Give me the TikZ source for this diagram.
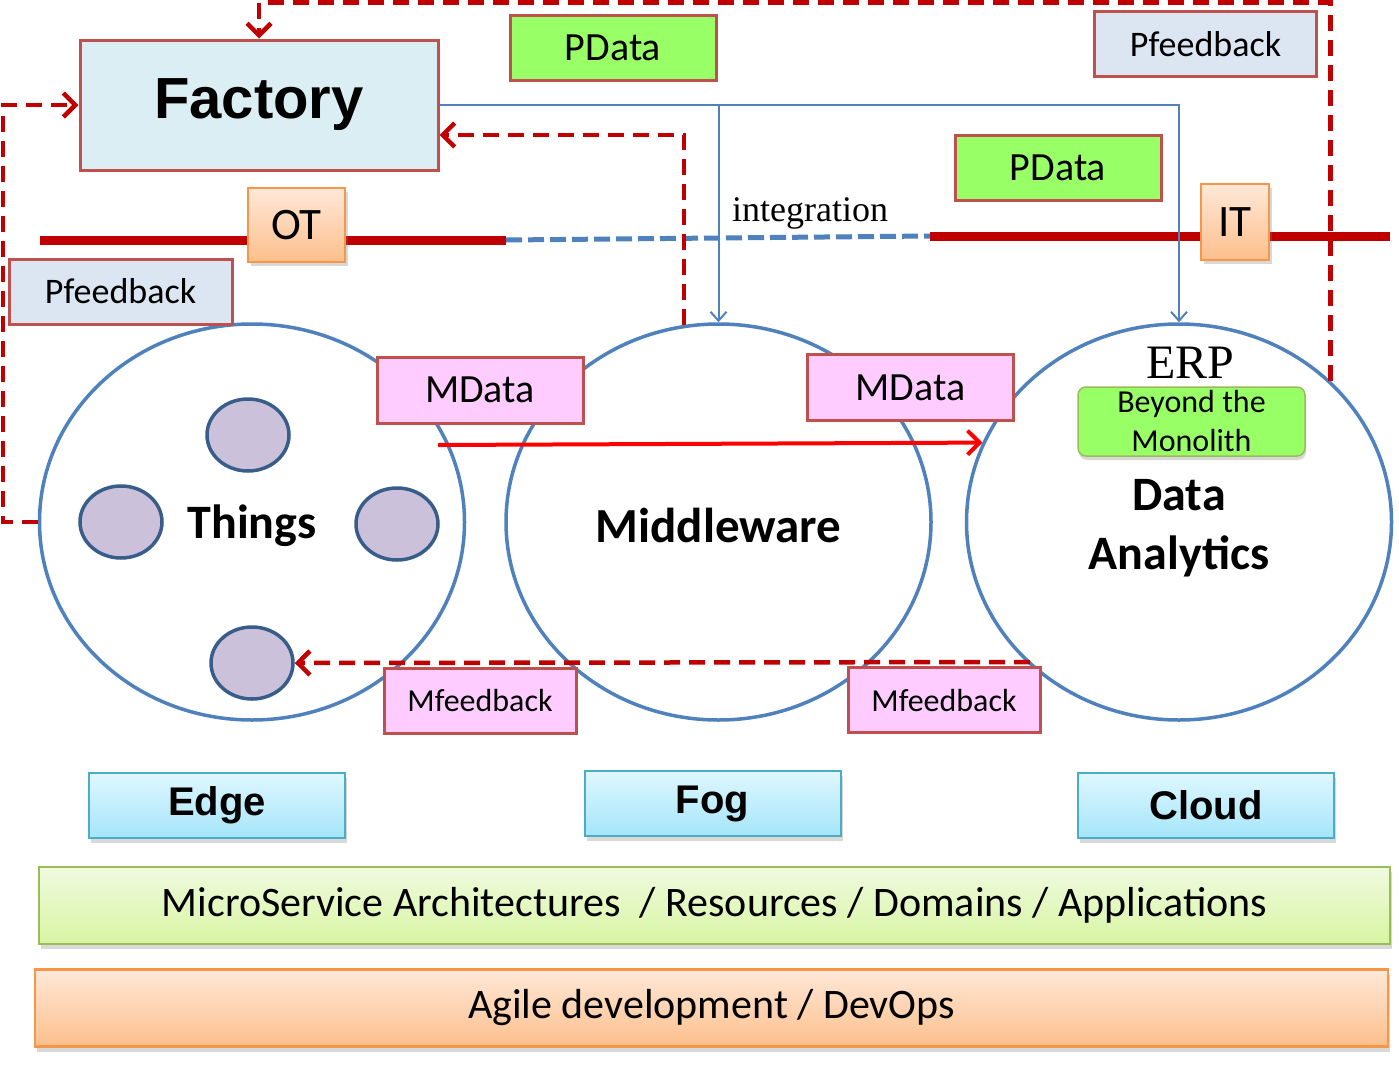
\documentclass[tikz,border=0pt]{standalone}
\usepackage{fontspec}
\setmainfont{Carlito}
\newfontfamily\seriffont{Liberation Serif}
\newfontfamily\heavyfont{Liberation Sans}
\usetikzlibrary{arrows.meta}
\usetikzlibrary{shapes,shadows,positioning}

\definecolor{boxred}{HTML}{C0504D}
\definecolor{darkred}{HTML}{C00000}
\definecolor{lineblue}{HTML}{4F81BD}
\definecolor{pgreen}{HTML}{99FF66}
\definecolor{mpink}{HTML}{FFCCFF}
\definecolor{fbblue}{HTML}{DCE6F2}
\definecolor{facblue}{HTML}{DAEEF3}
\definecolor{orangeedge}{HTML}{F79646}
\definecolor{orangetop}{HTML}{FFE8D8}
\definecolor{orangebot}{HTML}{FCBF8C}
\definecolor{cyanedge}{HTML}{4BACC6}
\definecolor{cyantop}{HTML}{DFF7FF}
\definecolor{cyanbot}{HTML}{A5E5FA}
\definecolor{greenedge}{HTML}{9BBB59}
\definecolor{greentop}{HTML}{EFFADF}
\definecolor{greenbot}{HTML}{D8F5A2}
\definecolor{devfill}{HTML}{CCC1DA}
\definecolor{devedge}{HTML}{385D8A}
\newcommand{\fsz}[2]{\fontsize{#1}{#2}\selectfont}

\begin{document}
\begin{tikzpicture}[x=1pt, y=-1pt]
    \tikzstyle{tag}      = [rectangle, draw=boxred, line width=3pt, inner sep=0pt, text centered]
    \tikzstyle{pdata}    = [tag, fill=pgreen, minimum width=206pt, minimum height=65pt, font=\fsz{40}{48}]
    \tikzstyle{mdata}    = [tag, fill=mpink, minimum width=206pt, minimum height=66pt, font=\fsz{40}{48}]
    \tikzstyle{mfeed}    = [tag, fill=mpink, minimum width=192pt, minimum height=65pt, font=\fsz{32}{38}]
    \tikzstyle{pfeed}    = [tag, fill=fbblue, minimum width=222pt, minimum height=65pt, font=\fsz{36}{42}]
    \tikzstyle{realm}    = [rectangle, draw=orangeedge, line width=2pt, top color=orangetop, bottom color=orangebot,
                            inner sep=0pt, font=\fsz{45}{54}, drop shadow={shadow xshift=3pt, shadow yshift=-4pt, opacity=.3}]
    \tikzstyle{tier}     = [rectangle, draw=cyanedge, line width=2pt, top color=cyantop, bottom color=cyanbot,
                            minimum width=256pt, minimum height=65pt, inner sep=0pt, font=\heavyfont\bfseries\fsz{40}{48},
                            drop shadow={shadow xshift=2pt, shadow yshift=-5pt, opacity=.3}]
    \tikzstyle{layer}    = [rectangle, line width=2.5pt, inner sep=0pt, minimum height=77pt, font=\fsz{42}{50},
                            drop shadow={shadow xshift=2pt, shadow yshift=-5pt, opacity=.3}]
    \tikzstyle{zone}     = [ellipse, draw=lineblue, line width=3.5pt, minimum width=425pt, minimum height=396pt, inner sep=0pt]
    \tikzstyle{device}   = [ellipse, draw=devedge, fill=devfill, line width=3.5pt, minimum width=82pt, minimum height=72pt]
    \tikzstyle{fbline}   = [draw, darkred, line width=4.5pt, dash pattern=on 16pt off 9pt, -{Straight Barb[length=12pt,width=24pt]}]
    \tikzstyle{pline}    = [draw, lineblue, line width=2pt, -{Straight Barb[length=9pt,width=16pt]}]
    \tikzstyle{mline}    = [draw, red, line width=4pt, -{Straight Barb[length=12pt,width=24pt]}]
    \tikzstyle{band}     = [draw, darkred, line width=9pt]

    \useasboundingbox [fill=white] (0,0) rectangle (1399,1068);

    % Zones
    \node [zone] (things) at (252,522) {};
    \node [zone] (mid) at (718.5,522) {};
    \node [zone] (da) at (1179,522) {};
    \node [font=\bfseries\fsz{48}{58}] (thingsText) at (252,526) {Things};
    \node [font=\bfseries\fsz{49}{58}] (midText) at (718.5,525) {Middleware};
    \node [font=\bfseries\fsz{48}{59}, align=center] (daText) at (1179,528) {Data\\Analytics};
    \node [font=\seriffont\fsz{48}{56}] (erp) at (1190,363) {ERP};
    \node [rectangle, rounded corners=8pt, draw=greenedge, line width=1.5pt, fill=pgreen, minimum width=227pt,
           minimum height=69pt, inner sep=0pt, align=center, font=\fsz{32}{39},
           drop shadow={shadow xshift=1pt, shadow yshift=-4pt, opacity=.3}] (beyond) at (1191.5,421.5) {Beyond the\\Monolith};

    % Things
    \node [device] (devT) at (248,435) {};
    \node [device] (devL) at (121,522) {};
    \node [device] (devR) at (397,524) {};
    \node [device] (devB) at (252,663) {};

    % OT / IT
    \coordinate (otStart) at (40,240);
    \coordinate (otEnd) at (506,240);
    \coordinate (itStart) at (930,236);
    \coordinate (itEnd) at (1390,236);
    \path [band] (otStart) -- (otEnd);
    \path [band] (itStart) -- (itEnd);
    \path [draw, lineblue, line width=5pt, dash pattern=on 16pt off 6pt] (otEnd) -- (itStart);
    \node [font=\seriffont\fsz{36}{42}] (integ) at (810,213) {integration};
    \node [realm, minimum width=97pt, minimum height=74pt] (ot) at (296.5,225) {OT};
    \node [realm, minimum width=68pt, minimum height=76pt] (it) at (1235,222) {IT};

    % Factory and tags
    \node [tag, fill=facblue, minimum width=358pt, minimum height=130pt, font=\heavyfont\bfseries\fsz{58}{66}] (factory) at (259,105) {Factory};
    \node [pdata] (pdataA) at (613,47.5) {PData};
    \node [pdata] (pdataB) at (1058,167.5) {PData};
    \node [pfeed] (pfbA) at (1205.5,44) {Pfeedback};
    \node [pfeed, minimum width=223pt] (pfbB) at (120.5,291.5) {Pfeedback};
    \node [mdata] (mdataA) at (480,390) {MData};
    \node [mdata] (mdataB) at (910.5,387.5) {MData};
    \node [mfeed] (mfbA) at (480,700.5) {Mfeedback};
    \node [mfeed] (mfbB) at (944,700) {Mfeedback};

    % Edge, fog, cloud
    \node [tier] (edge) at (217,805.5) {Edge};
    \node [tier, right of=edge, node distance=495.5pt, yshift=2pt] (fog) {Fog};
    \node [tier, right of=fog, node distance=493.5pt, yshift=-2pt] (cloud) {Cloud};

    % Layers
    \node [layer, draw=greenedge, top color=greentop, bottom color=greenbot, minimum width=1351pt] (micro) at (714.5,905.5)
          {MicroService Architectures\ \ / Resources / Domains / Applications};
    \node [layer, draw=orangeedge, top color=orangetop, bottom color=orangebot, minimum width=1353pt] (agile) at (711.5,1008)
          {Agile development / DevOps};

    % Connectors
    \path [pline] (factory.east) -| (mid.north);
    \path [pline] (factory.east) -| (da.north);
    \path [fbline] (things.west) -- ++(-35,0) |- (factory.west);
    \path [fbline] (mid.100) |- ([yshift=-30pt]factory.east);
    \path [fbline] (da.43) |- ([yshift=36pt]factory.north) -- (factory.north);
    \coordinate (mfbStart) at (1030,662);
    \path [fbline] (mfbStart) -- (devB.east);
    \coordinate (mStart) at (438,445);
    \path [mline] (mStart) -- (da.158);
\end{tikzpicture}
\end{document}
